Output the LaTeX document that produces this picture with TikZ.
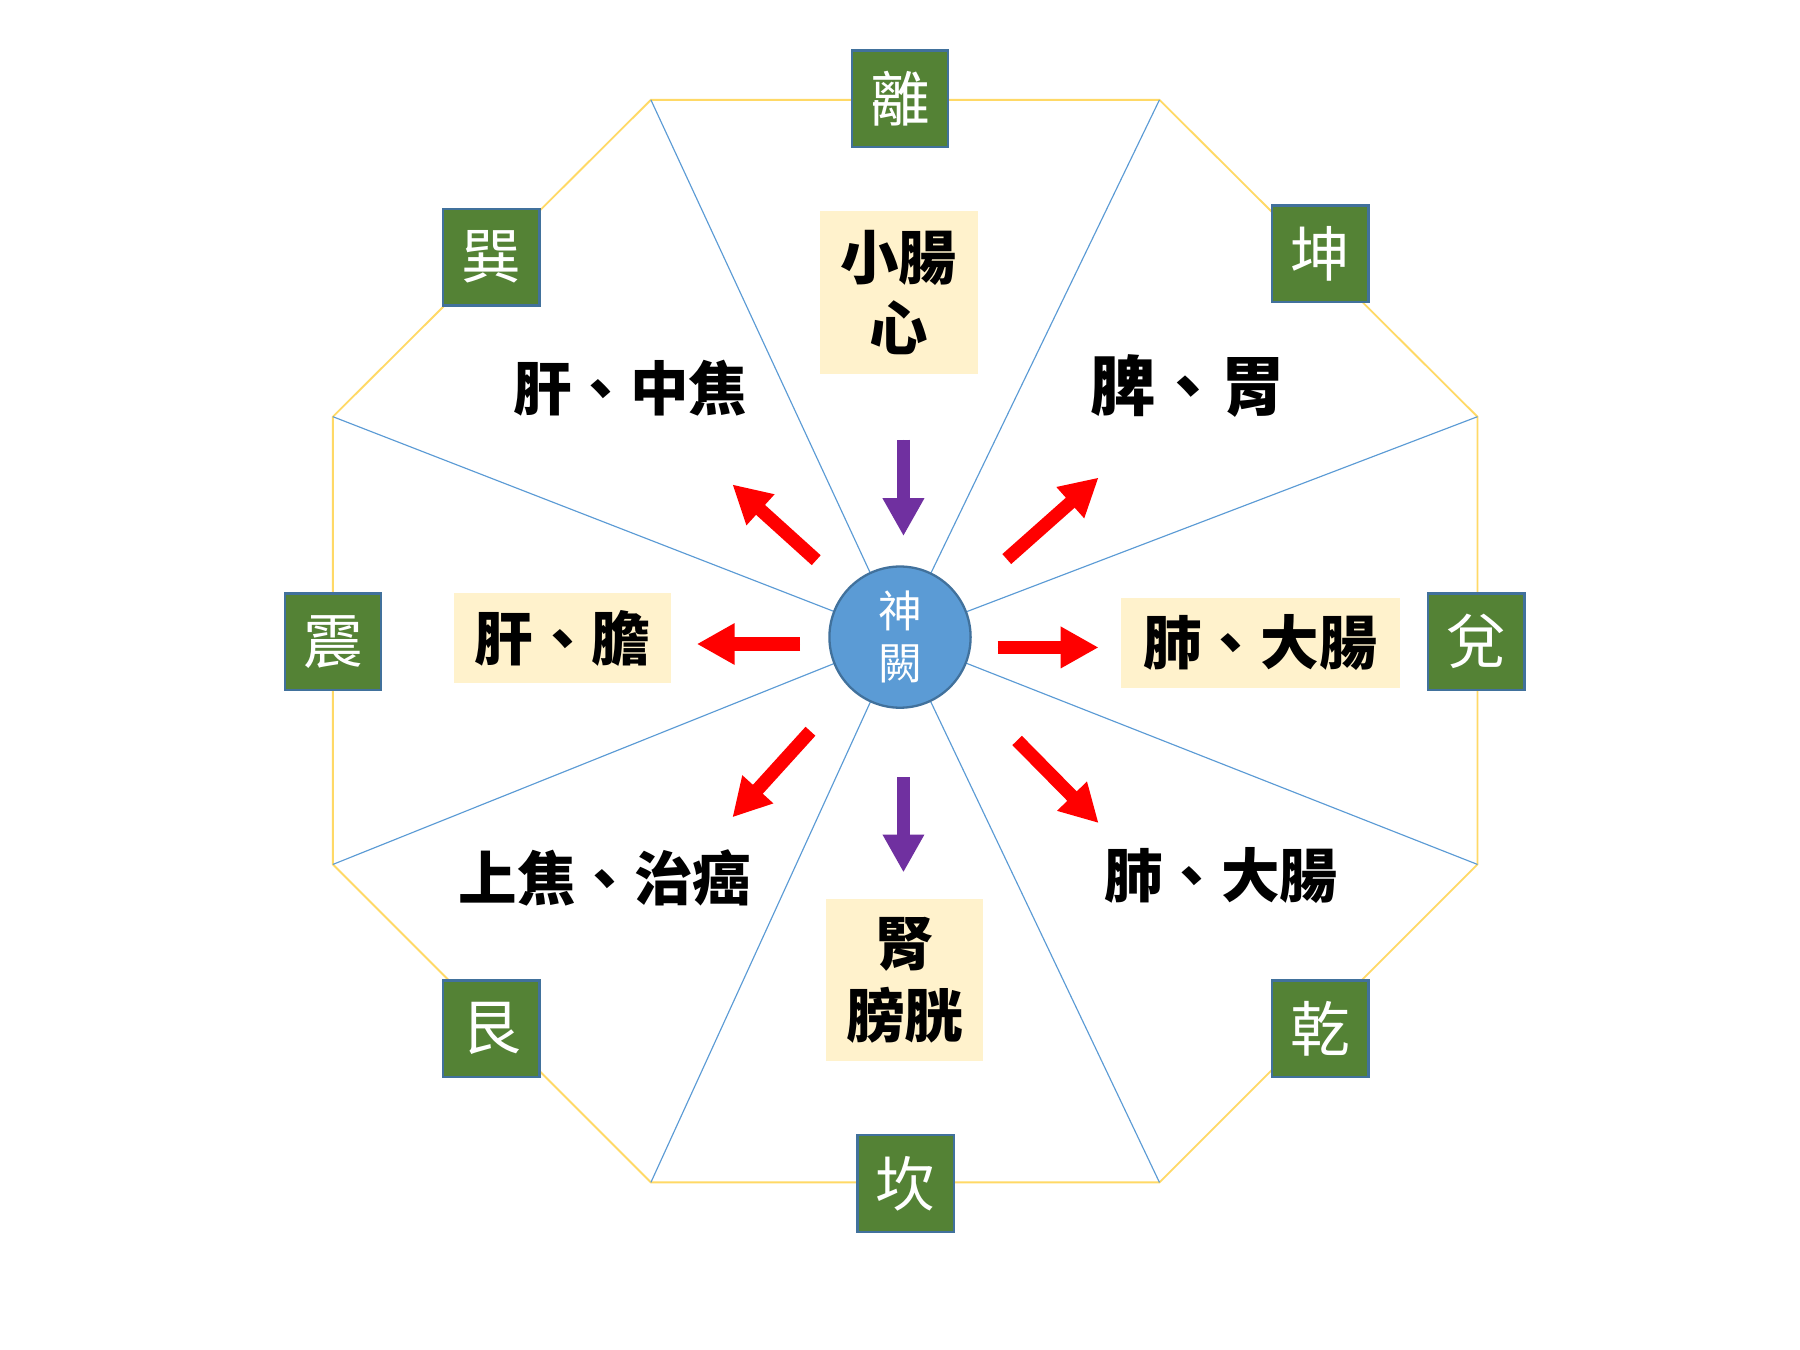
\documentclass[tikz,border=0pt]{standalone}
\usepackage{fontspec}
\newfontfamily\cjk{Noto Sans CJK TC}
\usetikzlibrary{arrows.meta}
\definecolor{spokeblue}{HTML}{5B9BD5}
\definecolor{octyellow}{HTML}{FFD966}
\definecolor{guagreen}{HTML}{548235}
\definecolor{guaborder}{HTML}{41719C}
\definecolor{organbg}{HTML}{FFF2CC}
\definecolor{circfill}{HTML}{5B9BD5}
\definecolor{circborder}{HTML}{41719C}
\definecolor{arrpurple}{HTML}{7030A0}
\definecolor{arrred}{HTML}{FF0000}
\begin{document}
\begin{tikzpicture}[x=0.5pt,y=-0.5pt,
  spoke/.style={draw=spokeblue,line width=0.5pt},
  octedge/.style={draw=octyellow,line width=0.8pt},
  gua/.style={draw=guaborder,fill=guagreen,line width=1pt,minimum width=42pt,minimum height=42pt,inner sep=0pt,text=white,font=\cjk\fontsize{26}{26}\selectfont},
  organbox/.style={fill=organbg,inner sep=0pt,align=center,font=\cjk\bfseries\fontsize{25.5}{31}\selectfont},
  organtxt/.style={inner sep=0pt,font=\cjk\bfseries\fontsize{25.5}{30}\selectfont},
  bigarrow/.style={line width=5.8pt,-{Triangle[length=16.5pt,width=17pt]}},
]
\fill[white] (0,0) rectangle (1568,1176);
\useasboundingbox (0,0) rectangle (1568,1176);
% octagon vertices
\coordinate (v1) at (567,87);
\coordinate (v2) at (1010,87);
\coordinate (v3) at (1287,363);
\coordinate (v4) at (1287,753);
\coordinate (v5) at (1010,1030);
\coordinate (v6) at (567,1030);
\coordinate (v7) at (290,753);
\coordinate (v8) at (290,363);
\coordinate (cc) at (784,555);
\draw[octedge] (v1)--(v2)--(v3)--(v4)--(v5)--(v6)--(v7)--(v8)--cycle;
\foreach \i in {1,...,8} \draw[spoke] (v\i) -- (cc);
% center
\node[circle,fill=circfill,draw=circborder,line width=1pt,minimum size=61.5pt,inner sep=0pt,text=white,align=center,font=\cjk\fontsize{19}{22.5}\selectfont] (sq) at (cc) {神\\闕};
% trigrams
\node[gua] (li) at (784,86) {離};
\node[gua] (kun) at (1150,221) {坤};
\node[gua] (dui) at (1286,559) {兌};
\node[gua] (qian) at (1150,896) {乾};
\node[gua] (kan) at (789,1031) {坎};
\node[gua] (gen) at (428,896) {艮};
\node[gua] (zhen) at (290,559) {震};
\node[gua] (xun) at (428,224) {巽};
% organ boxes
\node[organbox,minimum width=68.5pt,minimum height=71pt] (xc) at (783,255) {小腸\\心};
\node[organbox,minimum width=94.5pt,minimum height=39pt] (gd) at (490,556) {肝、膽};
\node[organbox,minimum width=121.5pt,minimum height=39pt] (fd) at (1098,560) {肺、大腸};
\node[organbox,minimum width=68.5pt,minimum height=70.5pt] (sp) at (788,854) {腎\\膀胱};
% plain texts
\node[organtxt] (gz) at (549,338) {肝、中焦};
\node[organtxt,font=\cjk\bfseries\fontsize{28.5}{30}\selectfont] (pw) at (1035,336) {脾、胃};
\node[organtxt] (sj) at (527,765) {上焦、治癌};
\node[organtxt] (fd2) at (1064,763) {肺、大腸};
% arrows
\coordinate (a1s) at (787,383); \coordinate (a1e) at (787,467);
\coordinate (a2s) at (787,677); \coordinate (a2e) at (787,760);
\coordinate (a3s) at (697,561); \coordinate (a3e) at (607,561);
\coordinate (a4s) at (869,564); \coordinate (a4e) at (957,564);
\coordinate (a5s) at (711,488); \coordinate (a5e) at (638,422);
\coordinate (a6s) at (877,487); \coordinate (a6e) at (957,416);
\coordinate (a7s) at (706,637); \coordinate (a7e) at (638,712);
\coordinate (a8s) at (886,645); \coordinate (a8e) at (957,717);
\draw[bigarrow,draw=arrpurple,fill=arrpurple] (a1s) -- (a1e);
\draw[bigarrow,draw=arrpurple,fill=arrpurple] (a2s) -- (a2e);
\foreach \i in {3,...,8} \draw[bigarrow,draw=arrred,fill=arrred] (a\i s) -- (a\i e);
\end{tikzpicture}
\end{document}
